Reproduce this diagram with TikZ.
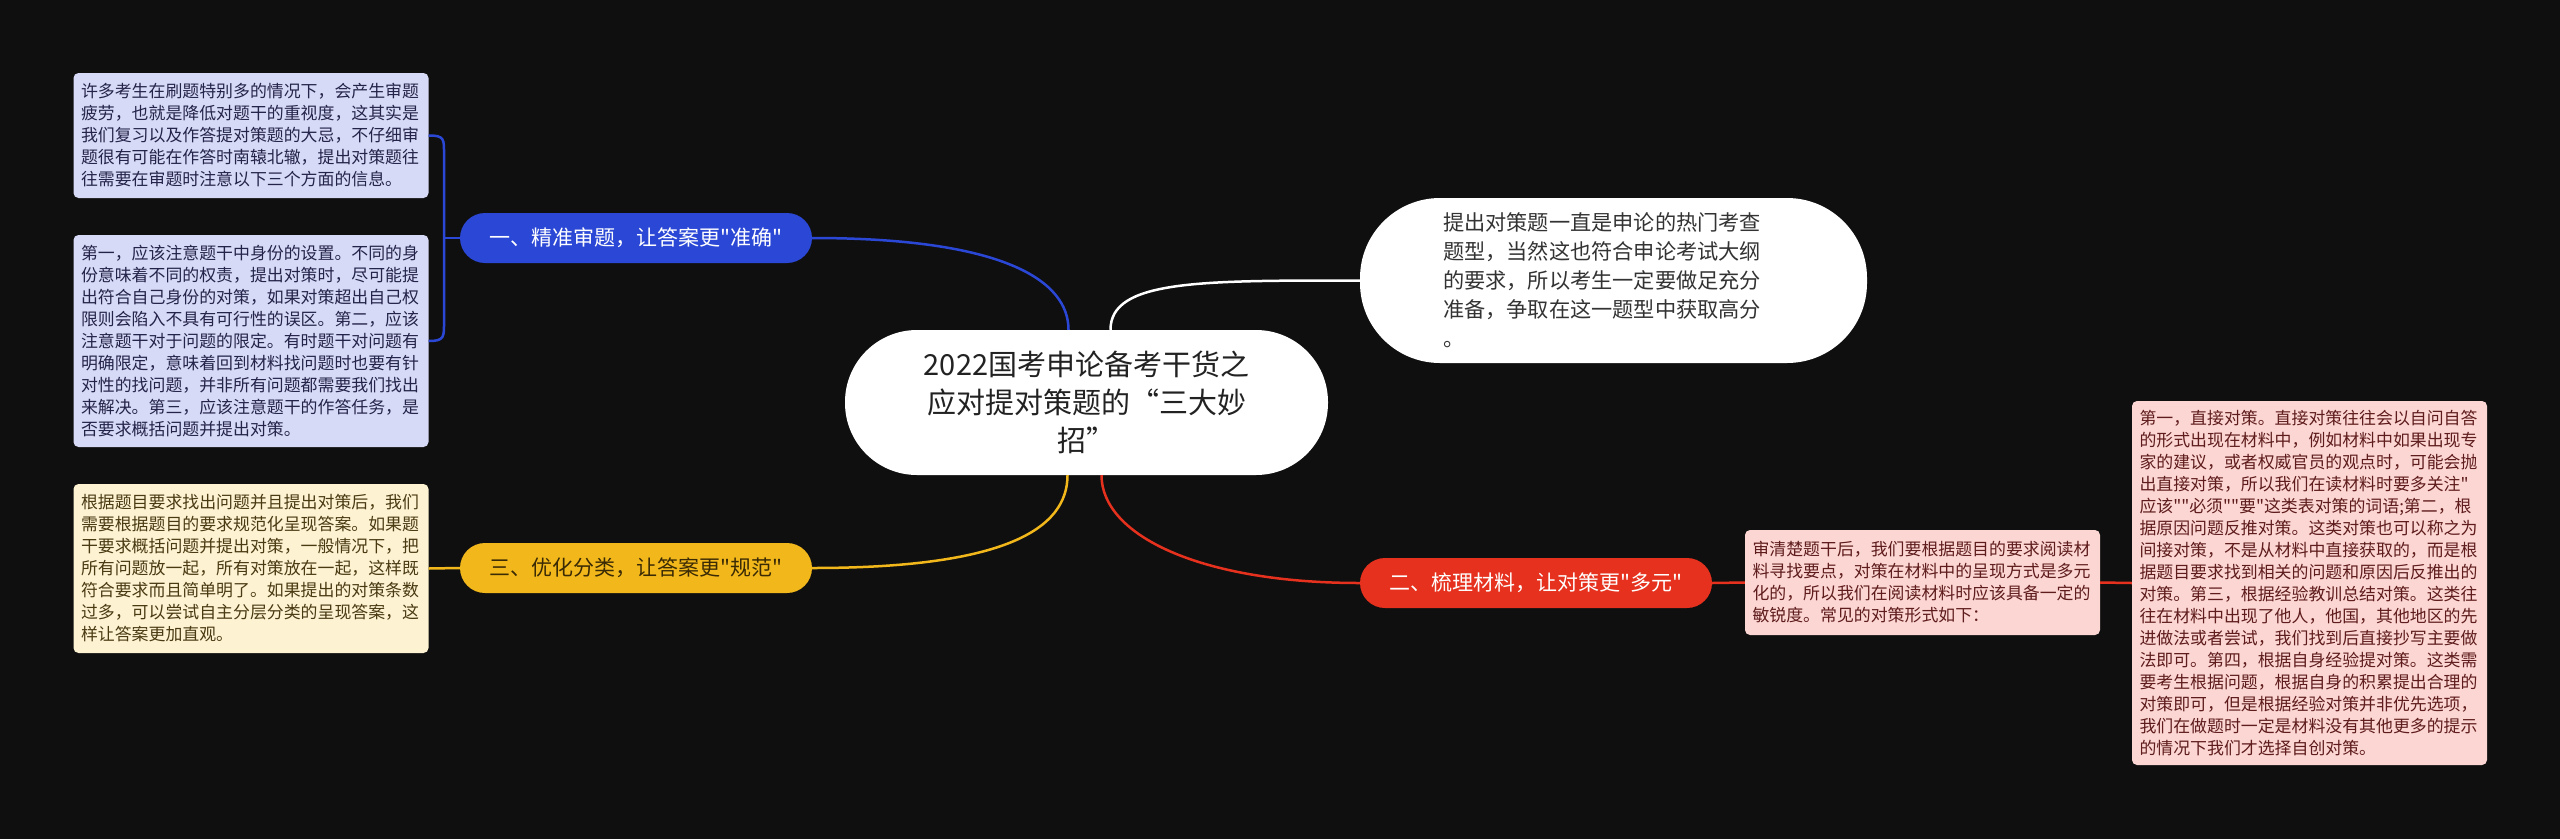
\documentclass[tikz,border=0pt]{standalone}
\usepackage{fontspec}
\setmainfont{Noto Sans CJK SC}
\newfontfamily\cjkf{Noto Sans CJK SC}
\usetikzlibrary{calc}
\definecolor{bg}{HTML}{0F0F0F}
\definecolor{blueC}{HTML}{2A47D6}
\definecolor{orangeC}{HTML}{F2B81B}
\definecolor{redC}{HTML}{E5311D}
\definecolor{lav}{HTML}{D7DAF6}
\definecolor{lavtext}{HTML}{24244A}
\definecolor{cream}{HTML}{FDF3D3}
\definecolor{creamtext}{HTML}{4A3A12}
\definecolor{pink}{HTML}{FCD6D3}
\definecolor{pinktext}{HTML}{5E1C1C}
\definecolor{ctext}{HTML}{222222}
\definecolor{wtext}{HTML}{333333}
\definecolor{otext}{HTML}{3A2A05}
\begin{document}
\begin{tikzpicture}[x=1pt,y=-1pt,
  tbox/.style={rounded corners=5pt, inner sep=0pt, align=left, minimum width=355pt, text width=340pt, font=\cjkf\fontsize{16.9}{22}\selectfont},
  branch/.style={rounded corners=25pt, minimum width=352pt, minimum height=50pt, inner sep=0pt, font=\cjkf\fontsize{21}{25}\selectfont},
  conn/.style={line width=2.5pt}
]
\fill[bg] (0,0) rectangle (2560,839);
\useasboundingbox (0,0) rectangle (2560,839);

% central
\node[fill=white, text=ctext, rounded corners=72pt, minimum width=483pt, minimum height=145pt, align=center, inner sep=0pt, font=\cjkf\fontsize{29}{38}\selectfont] (c) at (1086.5,402.5) {2022国考申论备考干货之\\应对提对策题的“三大妙\\招”};

% top-right description
\node[fill=white, text=wtext, rounded corners=80pt, minimum width=507pt, minimum height=165pt, text width=341pt, align=left, inner sep=0pt, font=\cjkf\fontsize{21.2}{29}\selectfont] (w) at (1613.5,280.5) {提出对策题一直是申论的热门考查\\题型，当然这也符合申论考试大纲\\的要求，所以考生一定要做足充分\\准备，争取在这一题型中获取高分\\。};

% branches
\node[branch, fill=blueC, text=white] (b1) at (636,238) {一、精准审题，让答案更"准确"};
\node[branch, fill=orangeC, text=otext] (b3) at (636,568) {三、优化分类，让答案更"规范"};
\node[branch, fill=redC, text=white] (b2) at (1536,583) {二、梳理材料，让对策更"多元"};

% leaf boxes
\node[tbox, fill=lav, text=lavtext, minimum height=125pt] (n1) at (251,135.5) {许多考生在刷题特别多的情况下，会产生审题\\疲劳，也就是降低对题干的重视度，这其实是\\我们复习以及作答提对策题的大忌，不仔细审\\题很有可能在作答时南辕北辙，提出对策题往\\往需要在审题时注意以下三个方面的信息。};
\node[tbox, fill=lav, text=lavtext, minimum height=212pt] (n2) at (251,341) {第一，应该注意题干中身份的设置。不同的身\\份意味着不同的权责，提出对策时，尽可能提\\出符合自己身份的对策，如果对策超出自己权\\限则会陷入不具有可行性的误区。第二，应该\\注意题干对于问题的限定。有时题干对问题有\\明确限定，意味着回到材料找问题时也要有针\\对性的找问题，并非所有问题都需要我们找出\\来解决。第三，应该注意题干的作答任务，是\\否要求概括问题并提出对策。};
\node[tbox, fill=cream, text=creamtext, minimum height=169pt] (n3) at (251,568.5) {根据题目要求找出问题并且提出对策后，我们\\需要根据题目的要求规范化呈现答案。如果题\\干要求概括问题并提出对策，一般情况下，把\\所有问题放一起，所有对策放在一起，这样既\\符合要求而且简单明了。如果提出的对策条数\\过多，可以尝试自主分层分类的呈现答案，这\\样让答案更加直观。};
\node[tbox, fill=pink, text=pinktext, minimum height=105pt] (n4) at (1922.5,582.5) {审清楚题干后，我们要根据题目的要求阅读材\\料寻找要点，对策在材料中的呈现方式是多元\\化的，所以我们在阅读材料时应该具备一定的\\敏锐度。常见的对策形式如下：};
\node[tbox, fill=pink, text=pinktext, minimum height=364pt] (n5) at (2309.5,583) {第一，直接对策。直接对策往往会以自问自答\\的形式出现在材料中，例如材料中如果出现专\\家的建议，或者权威官员的观点时，可能会抛\\出直接对策，所以我们在读材料时要多关注"\\应该""必须""要"这类表对策的词语;第二，根\\据原因问题反推对策。这类对策也可以称之为\\间接对策，不是从材料中直接获取的，而是根\\据题目要求找到相关的问题和原因后反推出的\\对策。第三，根据经验教训总结对策。这类往\\往在材料中出现了他人，他国，其他地区的先\\进做法或者尝试，我们找到后直接抄写主要做\\法即可。第四，根据自身经验提对策。这类需\\要考生根据问题，根据自身的积累提出合理的\\对策即可，但是根据经验对策并非优先选项，\\我们在做题时一定是材料没有其他更多的提示\\的情况下我们才选择自创对策。};

% connectors from centre
\draw[conn, blueC] (b1.east) .. controls +(190,0) and +(0,-50) .. ([xshift=-18pt]c.north);
\draw[conn, white] ([xshift=24pt]c.north) .. controls +(0,-50) and +(-160,0) .. (w.west);
\draw[conn, orangeC] ([xshift=-19pt]c.south) .. controls +(0,55) and +(190,0) .. (b3.east);
\draw[conn, redC] ([xshift=15pt]c.south) .. controls +(0,60) and +(-160,0) .. (b2.west);

% bracket on the left
\coordinate (kt) at (444,155);
\coordinate (kb) at (444,321);
\coordinate (km) at (444,238);
\draw[conn, blueC] (n1.east) .. controls +(16,0) and +(0,-16) .. (kt) -- (kb) .. controls +(0,16) and +(16,0) .. (n2.east);
\draw[conn, blueC] (b1.west) -- (km);
\draw[conn, orangeC] (b3.west) -- (n3.east);
\draw[conn, redC] (b2.east) -- (n4.west);
\draw[conn, redC] (n4.east) -- (n5.west);
\end{tikzpicture}
\end{document}
